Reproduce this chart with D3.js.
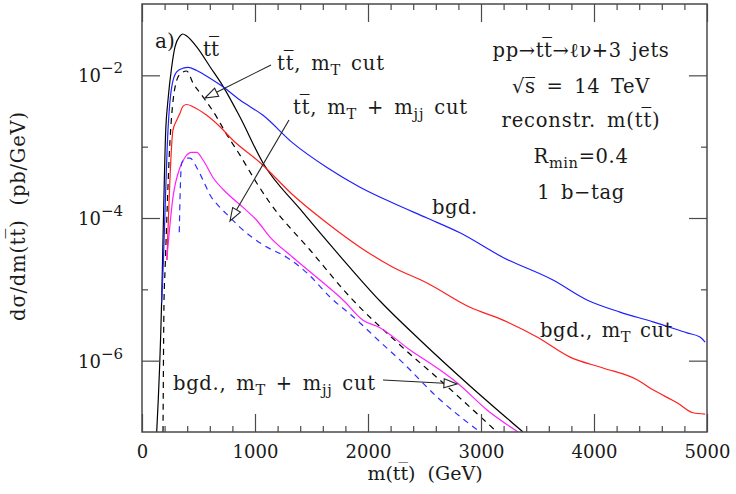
<!DOCTYPE html>
<html>
<head>
<meta charset="utf-8">
<script src="https://cdn.jsdelivr.net/npm/d3@7"></script>
<style>
  body { margin: 0; background: #fff; }
  text { font-family: "DejaVu Serif", serif; fill: #1a1a1a; white-space: pre; }
</style>
</head>
<body>
<svg id="chart" width="736" height="494"></svg>
<script>
// m(tt) in GeV, dsigma/dm in pb/GeV
const ttMass = [130, 174, 180, 210, 230, 263, 292, 336, 360, 396, 484, 602, 720, 867, 1071, 1398, 1752, 2106, 2460, 2903, 3372];
const ttVal = [1e-7, 7.1e-6, 1.86e-5, 1.7e-3, 4.5e-3, 1.32e-2, 2.5e-2, 3.55e-2, 3.8e-2, 3.55e-2, 2.5e-2, 1.32e-2, 6.9e-3, 2.6e-3, 5.9e-4, 1.34e-4, 2.93e-5, 6.86e-6, 1.95e-6, 4.42e-7, 1e-7];

const ttMtMass = [186, 195, 204, 248, 307, 345, 396, 451, 540, 661, 735, 867, 1015, 1133, 1487, 1841, 2283, 2726, 3142];
const ttMtVal = [1e-7, 7.1e-6, 1.86e-5, 1.23e-3, 8.5e-3, 1.07e-2, 1.15e-2, 7.8e-3, 5.0e-3, 2.6e-3, 1.62e-3, 7.6e-4, 3.1e-4, 1.62e-4, 3.56e-5, 7.8e-6, 1.66e-6, 4.0e-7, 1e-7];

const ttMjjMass = [330, 336, 351, 396, 425, 484, 540, 602, 690, 779, 867, 1071, 1283, 1460, 1664, 1903, 2089, 2310, 2611, 2991];
const ttMjjVal = [6.3e-5, 1.78e-4, 5.9e-4, 6.9e-4, 6.9e-4, 5.1e-4, 3.4e-4, 2.1e-4, 1.41e-4, 1.02e-4, 7.4e-5, 4.2e-5, 2.8e-5, 1.7e-5, 7.8e-6, 3.7e-6, 1.95e-6, 9.3e-7, 3.1e-7, 1e-7];

const bgdMass = [174, 186, 230, 263, 307, 365, 407, 484, 602, 717, 867, 1071, 1336, 1637, 1929, 2221, 2522, 2814, 3195, 3637, 3938, 4230, 4522, 4823, 4938, 4983];
const bgdVal = [6.5e-6, 1.86e-5, 1.7e-3, 6.9e-3, 1.12e-2, 1.26e-2, 1.29e-2, 1.17e-2, 9.1e-3, 6.9e-3, 4.5e-3, 2.75e-3, 1.12e-3, 5.1e-4, 2.7e-4, 1.62e-4, 1.0e-4, 6.2e-5, 2.8e-5, 1.35e-5, 7.1e-6, 4.8e-6, 3.5e-6, 2.45e-6, 2.14e-6, 1.82e-6];

const bgdMtMass = [221, 274, 307, 336, 363, 396, 451, 573, 690, 805, 1044, 1336, 1637, 1929, 2221, 2522, 2903, 3195, 3496, 3788, 4080, 4381, 4522, 4735, 4876, 4983];
const bgdMtVal = [2.57e-5, 1.7e-3, 2.34e-3, 2.95e-3, 3.7e-3, 3.9e-3, 3.63e-3, 2.75e-3, 1.9e-3, 1.23e-3, 6.0e-4, 2.1e-4, 8.5e-5, 3.9e-5, 2.04e-5, 1.23e-5, 5.6e-6, 3.7e-6, 2.14e-6, 1.12e-6, 7.9e-7, 5.4e-7, 3.9e-7, 2.57e-7, 1.86e-7, 1.78e-7];

const bgdMjjMass = [219, 274, 336, 381, 440, 484, 540, 628, 750, 894, 1015, 1133, 1336, 1575, 1779, 1956, 2106, 2372, 2611, 2788, 3053, 3328];
const bgdMjjVal = [2.57e-5, 1.95e-4, 5.1e-4, 7.1e-4, 8.3e-4, 8.3e-4, 6.5e-4, 3.7e-4, 2.24e-4, 1.41e-4, 9.3e-5, 5.4e-5, 2.8e-5, 1.35e-5, 7.1e-6, 3.7e-6, 2.9e-6, 1.41e-6, 7.9e-7, 4.9e-7, 2.04e-7, 1e-7];

const xMajor = [0, 1000, 2000, 3000, 4000, 5000];
const xMinor = d3.range(0, 5001, 200).filter(v => v % 1000 !== 0);
const yMajor = [1e-2, 1e-4, 1e-6];
const yMinor = [1e-3, 1e-5];
const yLabels = [['10', '−2'], ['10', '−4'], ['10', '−6']];

const series = [
  { m: ttMass, v: ttVal, color: '#000', dash: null },
  { m: ttMtMass, v: ttMtVal, color: '#000', dash: '6,5' },
  { m: bgdMass, v: bgdVal, color: '#1f1fff', dash: null },
  { m: bgdMtMass, v: bgdMtVal, color: '#ff1f1f', dash: null },
  { m: bgdMjjMass, v: bgdMjjVal, color: '#ff1fff', dash: null },
  { m: ttMjjMass, v: ttMjjVal, color: '#2f2fff', dash: '6,5' }
];

const L = 142, R = 707, T = 4, B = 432;
const frameColor = '#4a4a4a';
const svg = d3.select('#chart');

const x = d3.scaleLinear().domain([0, 5000]).range([L, R]);
const y = d3.scaleLog().domain([1e-7, 1e-1]).range([B, T]);

svg.append('clipPath').attr('id', 'plotclip')
  .append('rect').attr('x', L).attr('y', T).attr('width', R - L).attr('height', B - T);

// curves
const line = d3.line().x(d => x(d[0])).y(d => y(d[1])).curve(d3.curveMonotoneX);
svg.append('g').attr('clip-path', 'url(#plotclip)')
  .selectAll('path')
  .data(series)
  .join('path')
  .attr('d', s => line(d3.zip(s.m, s.v)))
  .attr('fill', 'none')
  .attr('stroke', s => s.color)
  .attr('stroke-width', 1.2)
  .attr('stroke-dasharray', s => s.dash);

// axes: ticks point inward on all four sides
function styleAxis(g) {
  g.select('.domain').remove();
  g.selectAll('line').attr('stroke', frameColor).attr('stroke-width', 1.2);
  g.attr('font-family', null).attr('font-size', null);
}
svg.append('g').attr('transform', `translate(0,${B})`)
  .call(d3.axisBottom(x).tickValues(xMajor).tickSize(-18).tickPadding(13).tickFormat(d3.format('d')))
  .call(styleAxis)
  .selectAll('text').attr('font-size', 18).attr('fill', '#1a1a1a');
svg.append('g').attr('transform', `translate(0,${B})`)
  .call(d3.axisBottom(x).tickValues(xMinor).tickSize(-6).tickFormat(''))
  .call(styleAxis);
svg.append('g').attr('transform', `translate(0,${T})`)
  .call(d3.axisTop(x).tickValues(xMajor).tickSize(-18).tickFormat(''))
  .call(styleAxis);
svg.append('g').attr('transform', `translate(0,${T})`)
  .call(d3.axisTop(x).tickValues(xMinor).tickSize(-6).tickFormat(''))
  .call(styleAxis);
svg.append('g').attr('transform', `translate(${L},0)`)
  .call(d3.axisLeft(y).tickValues(yMajor).tickSize(-18).tickFormat(''))
  .call(styleAxis);
svg.append('g').attr('transform', `translate(${L},0)`)
  .call(d3.axisLeft(y).tickValues(yMinor).tickSize(-6).tickFormat(''))
  .call(styleAxis);
svg.append('g').attr('transform', `translate(${R},0)`)
  .call(d3.axisRight(y).tickValues(yMajor).tickSize(-18).tickFormat(''))
  .call(styleAxis);
svg.append('g').attr('transform', `translate(${R},0)`)
  .call(d3.axisRight(y).tickValues(yMinor).tickSize(-6).tickFormat(''))
  .call(styleAxis);

svg.append('rect')
  .attr('x', L).attr('y', T).attr('width', R - L).attr('height', B - T)
  .attr('fill', 'none').attr('stroke', frameColor).attr('stroke-width', 1.5);

// y tick labels 10^n
const yl = svg.append('g').selectAll('text')
  .data(yMajor)
  .join('text')
  .attr('x', 123)
  .attr('y', d => y(d) + 7)
  .attr('text-anchor', 'end')
  .attr('font-size', 18);
yl.append('tspan').text((d, i) => yLabels[i][0]);
yl.append('tspan').attr('dy', -9).attr('font-size', 15).text((d, i) => yLabels[i][1]);

// rich text helper: parts of [string, 'sub' | 'sup' | '']
function rich(g, px, py, parts, size, anchor, ls, ws) {
  const t = g.append('text').attr('x', px).attr('y', py)
    .attr('font-size', size).attr('text-anchor', anchor || 'start')
    .style('letter-spacing', (ls || 0) + 'px')
    .style('word-spacing', (ws || 0) + 'px');
  let shift = 0;
  parts.forEach(([s, kind]) => {
    const target = kind === 'sub' ? 5 : kind === 'sup' ? -8 : 0;
    const sp = t.append('tspan').attr('dy', target - shift).text(s);
    if (kind) sp.attr('font-size', size * 0.75);
    shift = target;
  });
  return t;
}

const tbar = 't\u0305';
const ann = svg.append('g');
rich(ann, 155, 48, [['a)', '']], 20);
rich(ann, 203, 56, [['t' + tbar, '']], 20);
rich(ann, 277, 70, [['t' + tbar + ', m', ''], ['T', 'sub'], [' cut', '']], 19.5, 'start', 0.8, 3);
rich(ann, 293, 114, [['t' + tbar + ', m', ''], ['T', 'sub'], [' + m', ''], ['jj', 'sub'], [' cut', '']], 19.5, 'start', 0.8, 3);
rich(ann, 432, 214, [['bgd.', '']], 19.5, 'start', 0.5);
rich(ann, 540, 337, [['bgd., m', ''], ['T', 'sub'], [' cut', '']], 19.5, 'start', 0.6, 2);
rich(ann, 173, 390, [['bgd., m', ''], ['T', 'sub'], [' + m', ''], ['jj', 'sub'], [' cut', '']], 19.5, 'start', 0.7, 3);

const cx = 581;
rich(ann, cx, 57, [['pp→t' + tbar + '→ℓν+3 jets', '']], 19.5, 'middle', 0.6, 3);
rich(ann, cx, 93, [['√s\u0305 = 14 TeV', '']], 19.5, 'middle', 0.6, 4);
rich(ann, cx, 127, [['reconstr. m(t' + tbar + ')', '']], 19.5, 'middle', 0.8, 4);
rich(ann, cx, 163, [['R', ''], ['min', 'sub'], ['=0.4', '']], 19.5, 'middle', 0.6);
rich(ann, cx, 199, [['1 b−tag', '']], 19.5, 'middle', 0.6, 4);

// axis titles
rich(svg, 425, 480, [['m(t' + tbar + ')  (GeV)', '']], 19, 'middle');
svg.append('g').attr('transform', 'translate(25,216) rotate(-90)')
  .call(g => rich(g, 0, 0, [['dσ/dm(t' + tbar + ')  (pb/GeV)', '']], 19.5, 'middle', 0.8));

// arrows with open triangular heads
function arrow(x1, y1, x2, y2) {
  const a = Math.atan2(y2 - y1, x2 - x1);
  const len = 13, w = 4.5;
  const bx = x2 - len * Math.cos(a), by = y2 - len * Math.sin(a);
  const nx = -Math.sin(a) * w, ny = Math.cos(a) * w;
  ann.append('line').attr('x1', x1).attr('y1', y1).attr('x2', bx).attr('y2', by)
    .attr('stroke', '#222').attr('stroke-width', 1.1);
  ann.append('path')
    .attr('d', `M${x2},${y2}L${bx + nx},${by + ny}L${bx - nx},${by - ny}Z`)
    .attr('fill', '#fff').attr('stroke', '#222').attr('stroke-width', 1.1);
}
arrow(271, 65, 205, 98);
arrow(289, 120, 230, 221);
arrow(383, 380, 457, 384);
</script>
</body>
</html>
